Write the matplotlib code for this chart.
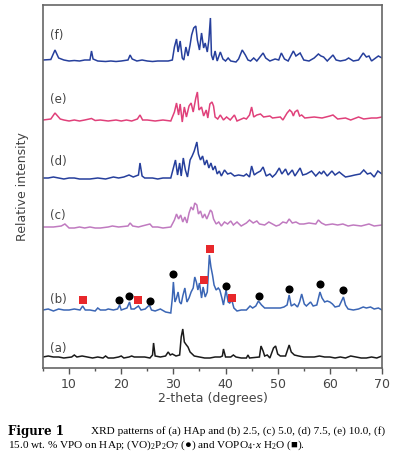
import matplotlib
matplotlib.use("Agg")
import matplotlib.pyplot as plt
from matplotlib.ticker import MultipleLocator

plt.rcParams['mathtext.fontset'] = 'custom'
plt.rcParams['mathtext.rm'] = 'Liberation Serif'
plt.rcParams['mathtext.it'] = 'Liberation Serif:italic'
plt.rcParams['mathtext.bf'] = 'Liberation Serif:bold'

# ---------------- data (2-theta, relative intensity above each trace's baseline) --------------
tt_a = [5, 6, 7, 8, 9, 10.5, 11, 11.5, 12.5, 13.5, 14.5, 15.5, 16.5, 17, 17.5, 18.5, 19.5, 20, 20.5,
        21.5, 22, 22.5, 23.5, 24.5, 25.5, 26.0, 26.2, 26.5, 27.5, 28.5, 29.0, 29.4, 29.8, 30.5, 31.2,
        31.5, 31.8, 32.1, 32.5, 32.8, 33.2, 33.6, 34.0, 35, 36, 37, 38, 39, 39.4, 39.6, 40.0, 41,
        41.5, 42, 43, 44, 44.3, 44.6, 46.5, 46.8, 47.2, 47.5, 48, 48.5, 49.2, 49.6, 50.0, 50.5, 51.5,
        52.2, 52.6, 53.2, 54, 55, 56, 57, 58, 59, 60, 61, 62, 63, 64, 65, 66, 67, 68, 69, 70]
int_a = [0, 1, 0, 0, -1, 0, 2, 0, 1, 0, -1, 0, -1, 1, -1, -1, 0, 1, -1,
         0, 1, 0, 0, 0, -1, 2, 14, 1, 0, 1, 5, 2, 3, 1, 2,
         20, 28, 15, 12, 10, 5, 3, 1, 0, -1, -1, 0, 0, 1, 8, 0, 0,
         2, 0, -1, -1, 2, -1, 0, 11, 6, 1, 2, -1, 9, 11, 3, 1, 1,
         12, 5, 2, 1, 0, 0, 0, 1, 0, 0, -1, 0, -1, 1, 0, -1, -1, 0, -1, 1]

tt_b = [5, 6, 7, 8, 9, 10, 11, 12.1, 12.6, 13.1, 14, 15, 15.5, 16, 17, 17.5, 18.5, 19.3, 19.7, 20.0,
        21.1, 21.6, 21.9, 22.5, 23.3, 23.8, 24.6, 25.4, 25.8, 26.5, 27.5, 28.5, 29.5, 29.8, 30.0,
        30.3, 30.6, 30.9, 31.2, 31.5, 31.8, 32.2, 32.6, 33.0, 33.4, 33.8, 34.1, 34.4, 34.7, 35.0,
        35.4, 35.7, 36.1, 36.5, 36.9, 37.2, 37.5, 37.8, 38.2, 38.6, 38.9, 39.3, 39.6, 40.1, 40.5,
        40.8, 41.2, 41.6, 42.2, 43, 44, 44.7, 45.2, 45.8, 46.3, 46.9, 47.5, 48.5, 49.5, 50.5, 51.2,
        51.8, 52.2, 52.6, 53.2, 53.8, 54.2, 54.6, 55.1, 55.5, 56.3, 56.8, 57.5, 58.1, 58.5, 59,
        59.5, 60, 60.5, 61, 61.8, 62.6, 63, 63.5, 64.5, 65.5, 66.4, 67, 67.8, 68.5, 69.3, 70]
int_b = [0, 1, -1, 1, 0, 0, 1, 0, 4, 0, 0, -1, 2, 0, 0, 1, 0, 1, 5, 0,
         2, 8, 1, 1, 4, 0, 1, 5, 0, -1, 1, -2, -3, 12, 28,
         8, 12, 18, 8, 6, 14, 22, 8, 12, 18, 22, 33, 28, 20, 27,
         12, 23, 13, 18, 55, 43, 35, 25, 20, 22, 20, 12, 5, 20, 8,
         7, 10, 2, -1, 0, 0, 4, 2, 4, 9, 5, 2, 2, 2, 2, 3,
         5, 15, 4, 6, 3, 8, 16, 6, 4, 8, 4, 5, 18, 12, 8,
         9, 8, 6, 3, 4, 13, 5, 1, 0, 1, 3, 2, 3, 1, 2, 0]

tt_c = [5, 6, 7, 8.5, 9.2, 10, 11, 12, 13, 14, 15, 16, 17.5, 18.3, 19.5, 21.3, 21.7, 22.2, 23.3, 24,
        25.5, 26, 27, 28, 29.5, 30.2, 30.6, 31, 31.4, 31.8, 32.2, 32.6, 33.0, 33.4, 33.8, 34.1,
        34.5, 34.8, 35.2, 35.6, 36.0, 36.4, 36.8, 37.1, 37.4, 37.7, 38.2, 38.7, 39.2, 39.8, 40.4,
        41, 41.5, 42.2, 43, 44, 44.6, 45.3, 46, 46.5, 47.5, 48.3, 49, 49.7, 50.3, 51, 51.7, 52.2,
        52.8, 53.5, 54.2, 55, 56, 57.3, 57.8, 58.4, 59.2, 60.5, 61.5, 62.5, 63.5, 64.5, 66, 67.5,
        68.5, 70]
int_c = [0, 0, 0, 1, 3, -1, -1, 0, -1, 0, -1, -1, 0, 1, 0, 1, 4, 1, 0, 1,
         3, 0, 0, -1, 0, 7, 13, 8, 12, 5, 10, 4, 14, 20, 17, 24,
         22, 13, 16, 9, 13, 8, 13, 17, 15, 8, 3, 5, 1, 5, 3,
         6, 2, 5, 1, 4, 7, 4, 6, 3, 2, 5, 3, 1, 2, 5, 4, 8,
         4, 5, 3, 3, 4, 3, 7, 4, 2, 3, 2, 3, 1, 2, 1, 3,
         1, 2]

tt_d = [5, 6, 7, 8, 9, 10, 11, 12, 14, 15.5, 17, 18.5, 19.5, 20.5, 21.5, 22.3, 23.3, 23.6, 24, 24.5,
        26, 27, 28, 29.5, 30.0, 30.4, 30.8, 31.2, 31.5, 31.9, 32.3, 32.7, 33.2, 33.6, 34.0, 34.5,
        34.8, 35.2, 35.6, 36, 36.4, 36.8, 37.2, 37.6, 38.0, 38.4, 38.8, 39.2, 39.8, 40.4, 41, 41.7,
        42.5, 43.5, 44, 44.6, 45.0, 45.5, 46, 46.7, 47.2, 47.8, 48.5, 49, 49.6, 50.3, 50.8, 51.5,
        52, 52.8, 53.3, 54.3, 54.8, 55.5, 56.5, 57.3, 58, 58.4, 58.8, 59.5, 60.4, 61, 61.8, 62.5,
        63, 64, 64.8, 65.8, 66.5, 67.2, 67.8, 68.5, 69.2, 70]
int_d = [0, 0, 1, 0, -1, 0, 0, -1, -1, 0, -1, 1, 0, 1, 3, 1, 3, 15, 2, 0,
         0, -1, 0, 0, 10, 18, 3, 15, 2, 20, 8, 1, 18, 22, 27, 36,
         24, 18, 22, 13, 18, 10, 15, 8, 12, 4, 7, 2, 8, 4, 5, 2,
         3, 2, 4, 1, 12, 3, 5, 7, 11, 2, 4, 1, 4, 10, 4, 9,
         3, 8, 2, 10, 3, 4, 7, 2, 6, 4, 7, 2, 7, 3, 6, 3,
         1, 2, 3, 4, 8, 4, 5, 1, 7, 4]

tt_e = [5, 6.5, 7.3, 8.3, 9, 10, 11, 12, 13, 14.3, 15, 16, 17.5, 19, 20, 21, 22, 23.1, 23.6, 24.1,
        25, 26.5, 28, 29.5, 30.2, 30.6, 31.0, 31.3, 31.7, 32.1, 32.5, 33.0, 33.4, 33.8, 34.3, 34.6,
        34.9, 35.4, 35.8, 36.3, 36.6, 37.0, 37.4, 37.7, 38.0, 38.5, 39.0, 39.6, 40.2, 40.9, 41.7,
        42.2, 43.5, 44.0, 44.6, 45.0, 45.4, 46, 46.7, 47.3, 48.5, 49, 50.5, 51, 51.8, 52.3, 52.7,
        53, 53.3, 53.8, 54.2, 54.6, 55.2, 57, 58.5, 60, 60.6, 61.5, 63, 64, 65.5, 66.5, 68, 69, 70]
int_e = [0, 1, 7, 1, 0, -1, 0, -1, 0, 1.5, -0.5, 0, -1, 0, -1, 0, -1, 1, 5, 0,
         0, -1, 0, -1, 8, 17, 5, 16, -2, 13, 3, 14, 17, 8, 22, 28,
         10, 13, 4, 10, 2, 16, 18, 14, 3, 1, 5, 0, 3, 0, 5,
         -1, 2, 1, 5, 13, 3, 5, 6, 3, 4, 2, 3, 0, 7, 10, 8,
         4, 8, 10, 4, 5, 2, 3, 2, 4, 5, 1, 2, 0, 3, 1, 2, 2, 3]

tt_f = [5.0, 6.5, 7.3, 8.0, 9, 10, 11, 12, 13, 14.0, 14.3, 14.6, 15.5, 17, 18, 19, 20, 21.3, 21.7,
        22.1, 23, 24, 25, 26, 27, 28, 29, 29.8, 30.2, 30.6, 30.9, 31.3, 31.7, 32.0, 32.4, 32.8,
        33.2, 33.5, 33.9, 34.3, 34.6, 35.0, 35.4, 35.8, 36.1, 36.5, 36.8, 37.1, 37.3, 37.6, 38.0,
        38.4, 39, 39.5, 40, 40.5, 41, 42, 42.5, 43.2, 43.8, 44.3, 44.8, 45.4, 46, 47.2, 47.7, 48.5,
        49.5, 50.2, 50.7, 51.3, 52, 53.0, 53.5, 54.3, 55, 56, 57, 57.8, 58.3, 58.8, 59.5, 60.6,
        61.2, 62, 63, 63.6, 64.5, 65.5, 66.4, 67, 67.5, 68, 69.3, 70]
int_f = [0, 0.5, 10, 2, 0, -1, -0.5, -1, 0, 0, 9, 1, -1, -1.5, -1, -1.5, -1, 0, 5,
         1, -1, 0, -1, -1.5, -1, -1, -1, 0, 13, 21, 8, 19, 2, 0, 13, 4,
         15, 25, 32, 34, 20, 10, 27, 12, 17, 8, 20, 42, 5, 0, 9,
         -1, 8, 1, -1, 2, -1, -2, 1, 10, 5, 0, -1, 2, -1, 7, 2, -1,
         1, 0, 7, 1, -1, 9, 4, 7, 0, -1, 2, 6, 4, 3, -1, 5,
         0, -1, 0, 2, -1, 0, 7, 3, 4, -1, 4, 2]

series_labels = ['(a)', '(b)', '(c)', '(d)', '(e)', '(f)']
series_colors = ['#1a1a1a', '#3b66b5', '#c07ac0', '#263f9c', '#e0407a', '#263f9c']
baselines = [11, 58, 141, 190, 248, 308]
label_y = [20, 69, 153, 206, 268, 333]

# phase markers on trace (b)
circle_tt = [19.6, 21.5, 25.5, 30.0, 40.1, 46.4, 52.2, 58.2, 62.6]
circle_y = [68, 72, 67, 94, 82, 72, 79, 84, 78]
square_tt = [12.6, 23.3, 35.9, 37.0, 41.2]
square_y = [68, 68, 88, 119, 70]

# ---------------- figure ----------------
fig = plt.figure(figsize=(3.99, 4.61), dpi=100)
ax = fig.add_axes([43 / 399, 93 / 461, 339 / 399, 363 / 461])

series = [(tt_a, int_a), (tt_b, int_b), (tt_c, int_c), (tt_d, int_d), (tt_e, int_e), (tt_f, int_f)]
for (tt, it), base, col, lab, ly in zip(series, baselines, series_colors, series_labels, label_y):
    ax.plot(tt, [base + v for v in it], color=col, lw=1.1, solid_joinstyle='miter')
    ax.text(6.3, ly, lab, color='#444444', fontsize=8.5, ha='left', va='center',
            family='DejaVu Sans')

ax.scatter(circle_tt, circle_y, s=34, marker='o', color='black', zorder=5, linewidths=0)
ax.scatter(square_tt, square_y, s=36, marker='s', color='#e8282b', zorder=5, linewidths=0)

ax.set_xlim(5, 70)
ax.set_ylim(0, 363)
ax.set_yticks([])
ax.xaxis.set_major_locator(MultipleLocator(10))
ax.xaxis.set_minor_locator(MultipleLocator(5))
ax.tick_params(axis='x', which='major', direction='out', length=4, width=1, colors='#555555',
               labelsize=9, labelcolor='#444444', pad=3)
ax.tick_params(axis='x', which='minor', direction='out', length=2, width=1, colors='#555555')
for sp in ax.spines.values():
    sp.set_color('#666666')
    sp.set_linewidth(1.2)

ax.set_xlabel('2-theta (degrees)', fontsize=9, color='#444444', labelpad=1)
ax.set_ylabel('Relative intensity', fontsize=9, color='#444444', labelpad=10)

# caption
cap_fs = 8.1
fig.text(8 / 399, (461 - 431.5) / 461, 'Figure 1', fontsize=8.6, fontweight='bold',
         family='DejaVu Serif', ha='left', va='center')
fig.text(91 / 399, (461 - 431.5) / 461,
         'XRD patterns of (a) HAp and (b) 2.5, (c) 5.0, (d) 7.5, (e) 10.0, (f)',
         fontsize=cap_fs, family='Liberation Serif', ha='left', va='center')
fig.text(8 / 399, (461 - 445) / 461,
         r'15.0 wt. % VPO on HAp; (VO)$_2$P$_2$O$_7$ (●) and VOPO$_4$·$x$ H$_2$O (■).',
         fontsize=cap_fs, family='Liberation Serif', ha='left', va='center')

fig.savefig('out.png', dpi=100)
